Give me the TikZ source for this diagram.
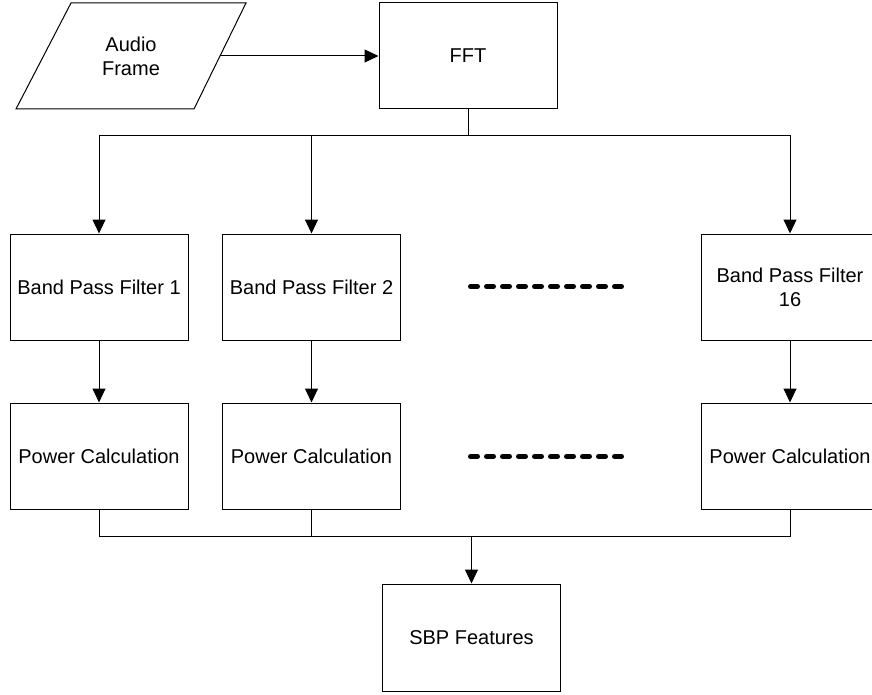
\documentclass[tikz,border=0pt]{standalone}
\usepackage{fontspec}
\setmainfont{Liberation Sans}
\usetikzlibrary{arrows.meta}
\begin{document}
\begin{tikzpicture}[x=1pt,y=-1pt,
  txt/.style={font=\fontsize{20}{24}\selectfont, align=center, inner sep=0pt},
  box/.style={txt, draw, line width=1pt, minimum width=178pt, minimum height=106pt},
  conn/.style={line width=1pt},
  arr/.style={conn, -{Triangle[length=14pt,width=13pt]}},
  dots/.style={line width=5pt, line cap=round, dash pattern=on 7pt off 9pt}]
\useasboundingbox (0,0) rectangle (872,695);
% input parallelogram
\coordinate (p1) at (71,3);
\coordinate (p2) at (246,3);
\coordinate (p3) at (194,109);
\coordinate (p4) at (16,109);
\draw[conn, line join=miter] (p1) -- (p2) -- (p3) -- (p4) -- cycle;
\node[txt] (audio) at (131,56) {Audio\\Frame};
\coordinate (aout) at (220,56);
% boxes
\node[box] (fft) at (468,56) {FFT};
\node[box] (bpf1) at (99,287) {Band Pass Filter 1};
\node[box] (bpf2) at (311.5,287) {Band Pass Filter 2};
\node[box] (bpf16) at (790,287) {Band Pass Filter\\16};
\node[box] (pc1) at (99,456) {Power Calculation};
\node[box] (pc2) at (311.5,456) {Power Calculation};
\node[box] (pc16) at (790,456) {Power Calculation};
\node[box, minimum height=107pt] (sbp) at (471.5,637.5) {SBP Features};
% connectors
\draw[arr] (aout) -- (fft.west);
\coordinate (split) at (468,136);
\draw[conn] (fft.south) -- (split);
\draw[arr] (split) -| (bpf1.north);
\draw[arr] (split) -| (bpf2.north);
\draw[arr] (split) -| (bpf16.north);
\draw[arr] (bpf1) -- (pc1);
\draw[arr] (bpf2) -- (pc2);
\draw[arr] (bpf16) -- (pc16);
\coordinate (merge) at (471.5,536);
\draw[conn] (pc1.south) |- (merge);
\draw[conn] (pc2.south) |- (merge);
\draw[conn] (pc16.south) |- (merge);
\draw[arr] (merge) -- (sbp.north);
% ellipsis dashes
\coordinate (d1a) at (470.5,286.5);
\coordinate (d1b) at (621.5,286.5);
\coordinate (d2a) at (470.5,456.5);
\coordinate (d2b) at (621.5,456.5);
\draw[dots] (d1a) -- (d1b);
\draw[dots] (d2a) -- (d2b);
\end{tikzpicture}
\end{document}
